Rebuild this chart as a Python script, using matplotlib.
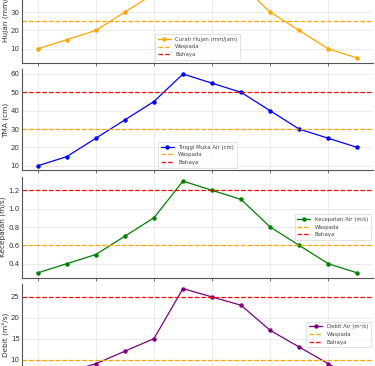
import matplotlib
matplotlib.use("Agg")
import matplotlib.pyplot as plt

# jam pengamatan (indeks), tick tiap 2 jam
jam = list(range(12))
jam_ticks = list(range(0, 12, 2))

curah_hujan = [10, 15, 20, 30, 40, 55, 50, 45, 30, 20, 10, 5]
tma = [10, 15, 25, 35, 45, 60, 55, 50, 40, 30, 25, 20]
kecepatan = [0.3, 0.4, 0.5, 0.7, 0.9, 1.3, 1.2, 1.1, 0.8, 0.6, 0.4, 0.3]
debit = [5, 7, 9, 12, 15, 27, 25, 23, 17, 13, 9, 5]

waspada = [25, 30, 0.6, 10]
bahaya = [50, 50, 1.2, 25]

series = [curah_hujan, tma, kecepatan, debit]
labels = ["Curah Hujan (mm/jam)", "Tinggi Muka Air (cm)",
          "Kecepatan Air (m/s)", "Debit Air (m\u00b3/s)"]
ylabels = ["Hujan (mm/jam)", "TMA (cm)", "Kecepatan (m/s)", "Debit (m\u00b3/s)"]
colors = ["orange", "blue", "green", "purple"]
legend_loc = ["lower center", "lower center", "center right", "center right"]

W, H = 375, 366
fig = plt.figure(figsize=(W / 100, H / 100), dpi=100)

# panel positions in pixels (top edge, height) -- figure is a crop of a taller one
left_px, width_px = 21.7, 351.6
tops = [-38.4, 69.4, 176.5, 284.0]
height_px = 101.0

for i in range(4):
    ax = fig.add_axes([left_px / W, 1 - (tops[i] + height_px) / H,
                       width_px / W, height_px / H])
    ax.plot(jam, series[i], marker="o", markersize=2.2, linewidth=0.9,
            color=colors[i], label=labels[i])
    ax.axhline(waspada[i], color="orange", linestyle="--", linewidth=0.9, label="Waspada")
    ax.axhline(bahaya[i], color="red", linestyle="--", linewidth=0.9, label="Bahaya")
    ax.set_ylabel(ylabels[i], fontsize=5.3, color="#333333", labelpad=1.5)
    ax.set_xticks(jam_ticks)
    if i < 3:
        ax.set_xticklabels([])
    ax.grid(True, color="#e3e3e3", linewidth=0.5)
    ax.set_axisbelow(True)
    for s in ["top", "right"]:
        ax.spines[s].set_visible(False)
    for s in ["left", "bottom"]:
        ax.spines[s].set_color("#555555")
        ax.spines[s].set_linewidth(0.8)
    ax.tick_params(axis="both", labelsize=5, colors="#555555", labelcolor="#333333",
                   length=2.5, width=0.6, pad=1.5)
    ax.tick_params(axis="y", length=0)
    leg = ax.legend(loc=legend_loc[i], fontsize=3.9, framealpha=0.8,
                    edgecolor="#cccccc", borderpad=0.5, handlelength=2.4,
                    labelspacing=0.5, fancybox=False)
    for t in leg.get_texts():
        t.set_color("#444444")
    leg.get_frame().set_linewidth(0.5)

fig.savefig("out.png", dpi=100)
